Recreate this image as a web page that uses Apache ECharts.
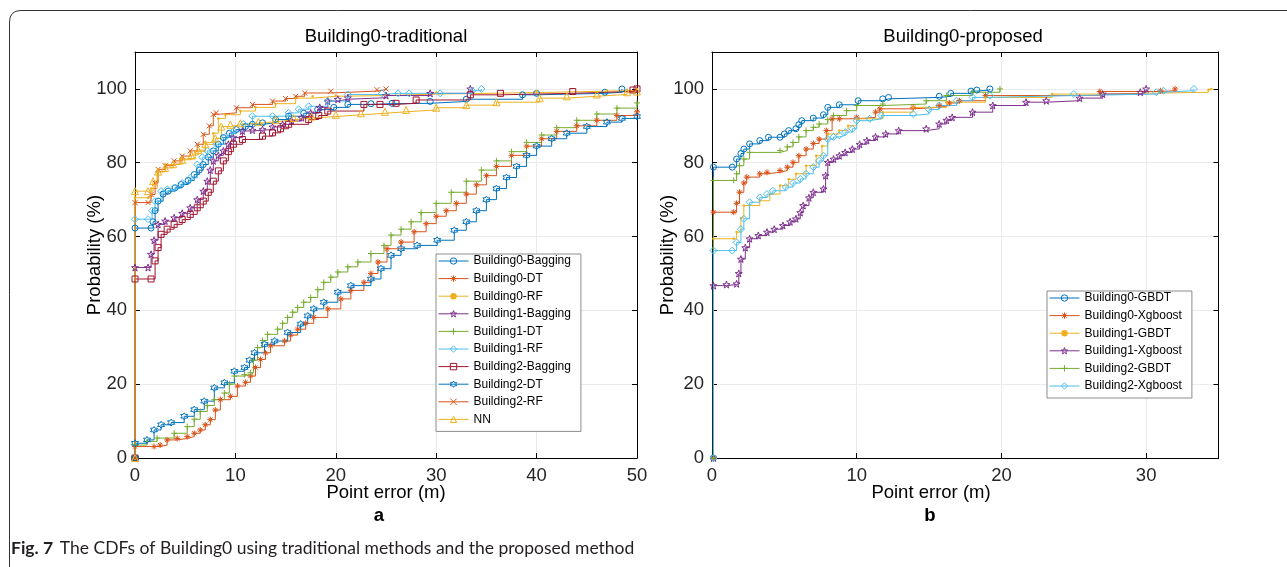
<!DOCTYPE html>
<html>
<head>
<meta charset="utf-8">
<script src="https://cdn.jsdelivr.net/npm/echarts@6/dist/echarts.min.js"></script>
<style>
html,body{margin:0;padding:0;background:#fff;}
#c{width:1287px;height:567px;}
</style>
</head>
<body>
<div id="c"></div>
<script>
// ---------- DATA (error in m, cumulative probability in %) ----------
const leftNames = ['Building0-Bagging','Building0-DT','Building0-RF','Building1-Bagging','Building1-DT','Building1-RF','Building2-Bagging','Building2-DT','Building2-RF','NN'];
const rightNames = ['Building0-GBDT','Building0-Xgboost','Building1-GBDT','Building1-Xgboost','Building2-GBDT','Building2-Xgboost'];
const xTicksLeft = [0,10,20,30,40,50];
const xTicksRight = [0,10,20,30];
const yTicks = [0,20,40,60,80,100];

const b0Bagging = [[0,0],[0,62.3],[1.6,62.3],[1.8,64],[2.0,67],[2.3,69.6],[2.8,71.5],[3.3,72.3],[4.0,73.2],[4.6,74.1],[5.3,75.2],[5.9,76.8],[6.4,78],[6.8,79.5],[7.3,81.5],[7.8,83.2],[8.3,85],[8.8,86.8],[9.4,88],[10.1,89],[11.0,89.8],[11.7,90.4],[12.7,90.8],[14.0,91.7],[15.3,92.6],[16.8,93.4],[18.2,94.4],[19.8,95.0],[21.2,95.8],[23.5,96.0],[25.6,96.1],[29.4,96.6],[33.0,97.2],[38.6,98.4],[40.0,98.8],[46.8,99.1],[48.5,100]];
const b0DT = [[0,0],[0,3.1],[1.9,3.1],[2.5,3.5],[3.2,4.9],[4.2,5.3],[5.2,5.8],[5.9,6.7],[6.5,7.6],[7.0,9],[7.5,10.4],[8.0,13],[8.5,15.8],[9.5,16.7],[10.2,19.5],[11.0,20.5],[11.5,22.2],[12.0,24.5],[12.5,26.7],[13.0,28.5],[13.5,30.4],[14.9,31.7],[15.5,33.3],[16.2,34.9],[17.0,36.5],[17.8,38.1],[19.2,40.4],[20.5,43.1],[21.5,45.4],[22.8,47.6],[23.5,50],[24.2,53.1],[25.1,56.7],[26.5,58.5],[27.8,61.3],[29,63.5],[30,65.5],[31,67],[32,69],[33,71.5],[34,74],[35,76.5],[36,79],[37.5,82],[39,84.5],[40.5,86.5],[42,88.5],[44,90],[46,91.5],[48,92.8],[50,93.8]];
const b0RF = [[0,0],[0,70.5],[1.3,70.5],[1.6,73],[2.2,77.5],[3,79.5],[4.5,81],[6,83],[7,85.5],[7.8,88],[8.3,92],[9,93],[10.5,94],[12,95],[14,96],[16,97.5],[17.7,98],[20,98.2],[25,98.6],[30,99],[40,99.4],[47,99.6],[50,100]];
const b1Bagging = [[0,0],[0,51.6],[1.3,51.6],[1.6,55.2],[1.9,59],[2.3,63.3],[3.0,64.2],[3.9,65.1],[4.7,66.3],[5.5,67.8],[6.2,70],[6.8,72.3],[7.2,75],[7.5,78],[7.8,80.5],[8.3,82],[8.8,83.2],[9.3,85],[9.8,86.8],[10.7,88.6],[11.7,88.8],[12.7,89],[13.7,89.7],[14.7,90.4],[15.6,91.3],[16.6,92.2],[17.5,93.5],[18.4,95],[19.2,96.7],[20.2,97.2],[21.2,97.6],[25,98.2],[29.4,98.8],[33.4,100]];
const b1DT = [[0,0],[0,3.5],[1.2,4.5],[2.2,5.4],[3.9,6.7],[5.2,8.5],[5.9,10.5],[6.5,12.6],[7.2,14.2],[7.9,15.8],[8.9,17.6],[9.4,20],[9.9,22.2],[10.9,22.6],[11.5,23.1],[11.8,26.5],[12.2,29.9],[12.7,31.8],[13.2,33.5],[14.2,34.9],[14.7,36.5],[15.2,38.1],[15.7,39.5],[16.2,40.8],[16.8,42.2],[17.5,43.5],[18.2,45.6],[18.8,47.6],[19.5,49],[20.2,50.4],[21.2,51.8],[22.2,53.1],[23.5,55.4],[24.8,57.6],[25.5,60.4],[26.5,62],[27.5,64],[28.5,66.5],[30,69],[31.5,72],[33,75],[34.5,78],[36,80.5],[37.5,83],[39,85.5],[40.5,87.5],[42,89.5],[44,91.5],[46,93.2],[48,94.8],[50,96.2]];
const b1RF = [[0,0],[0,64.7],[1.3,64.7],[1.7,67],[2.0,69.6],[2.6,72.3],[3.2,72.8],[3.9,73.2],[4.7,74.5],[5.5,75.9],[6.2,79.5],[6.7,81.5],[7.2,83.2],[8.1,85],[9.0,87],[9.8,88.6],[10.8,90.5],[11.7,92.6],[13.7,92.6],[15.3,93.5],[16.3,94.5],[17.3,95.3],[19.2,96.7],[21.2,98.5],[24.6,98.8],[26.2,98.8],[27.3,98.8],[30.4,98.8],[33.6,99.5],[34.5,100]];
const b2Bagging = [[0,0],[0,48.5],[1.6,48.5],[2.0,53.4],[2.3,57],[2.6,60.6],[3.2,62],[3.9,63.3],[4.7,64.6],[5.5,66],[6.2,67.8],[6.8,69.6],[7.3,72],[7.8,75],[8.3,77.8],[8.8,80.5],[9.3,83],[9.8,85],[10.7,86.3],[12.7,87.2],[13.7,88.1],[14.5,89.2],[15.3,90.4],[17.3,91.7],[18.3,92.8],[19.2,94],[22.8,95.8],[24.4,95.8],[26,96.1],[28,97],[33.4,98.4],[36.4,98.8],[43.6,99.3],[49.6,99.7],[50,100]];
const b2DT = [[0,0],[0,4],[1.2,4.9],[1.9,7.6],[2.6,9],[3.6,9.6],[4.9,11.3],[5.9,13.1],[6.9,15.4],[7.9,19],[8.9,20.4],[9.9,23.5],[10.9,24.5],[11.4,26.5],[11.9,28.5],[12.9,30.8],[13.9,31.7],[15.2,34],[16.5,36.3],[17.2,38.5],[17.8,40.4],[18.8,42.2],[20.2,44.9],[21.5,46.7],[23.5,48.5],[24.5,51.3],[25.5,54.9],[26.5,56.7],[28.1,57.6],[30.1,59],[31.8,61.7],[33,64],[34,67],[35,70],[36,73],[37,76],[38,79],[39,82],[40,84.5],[41.5,86.5],[43,88],[45,89.8],[47,91],[48.5,92],[50,92.5]];
const b2RF = [[0,0],[0,69.2],[1.3,69.2],[1.6,71.4],[2.0,74.5],[2.3,78.2],[3.0,79.2],[3.9,80.5],[4.7,81.8],[5.5,83.2],[6.2,85],[6.8,87.7],[7.4,90],[7.8,93.1],[8.1,93.5],[10.1,94.9],[11.7,95.8],[13.7,96.7],[15,97.4],[16,98],[16.9,98.9],[19.5,99.4],[24.1,99.8],[25,100]];
const nn = [[0,0],[0,72.3],[1.3,72.3],[1.8,75],[2.3,77.6],[3.0,78.6],[3.8,79.6],[4.7,80.8],[5.6,82.1],[6.3,83.4],[7.0,85],[8.0,86.6],[8.6,89.8],[9.5,90.3],[10.5,90.7],[12.3,91.1],[14,91.6],[15.8,92.1],[17.6,92.5],[20,93],[22.5,93.4],[24.9,93.8],[27,94.3],[30,94.9],[33,95.6],[36,96.4],[40.3,97.5],[43,98],[46,98.5],[49,99.1],[50,99.3]];

const rB0GBDT = [[0.1,0],[0.1,78.8],[1.4,78.8],[1.7,81],[2.0,82.5],[2.2,83.7],[2.6,85.1],[3.3,86],[3.9,86.9],[4.7,86.9],[5.0,87.8],[5.3,88.7],[5.8,89.2],[6.0,90.3],[6.2,91.4],[7.0,92.1],[7.7,93],[8.0,95],[8.8,95.7],[10.1,96.8],[11.8,97.3],[12.2,97.7],[15.7,98],[16.5,98.8],[17.9,99.4],[18.3,99.7],[19.2,100]];
const rB0Xg = [[0.1,0],[0.1,66.6],[1.5,66.6],[1.7,69],[1.9,72],[2.2,74.5],[2.4,76.1],[3.3,77],[3.8,77.4],[4.7,77.9],[5.2,78.8],[5.6,80.1],[6.0,81.9],[6.5,83.7],[7.0,85.2],[7.4,86.4],[7.9,88.7],[8.3,91.9],[8.8,91.9],[10.0,92.3],[11.3,93.7],[11.6,94.6],[13.9,95],[15.7,95.5],[16.4,96.2],[17.1,96.8],[18.9,98.2],[26.8,99.3],[31.0,99.5],[32.0,100]];
const rB1GBDT = [[0.1,0],[0.1,59.4],[1.5,59.4],[1.7,61.2],[2.0,65],[2.2,68.4],[3.3,69.7],[4.0,71.5],[4.7,73.8],[5.3,75.5],[5.8,77],[6.5,79.2],[7.2,81.9],[7.6,84.5],[8.0,87.8],[8.8,88.7],[9.4,90],[10.0,91.9],[11.8,93.7],[13.9,95],[16.2,96.4],[18.9,97.7],[23.5,98.6],[27.0,99.1],[34.3,99.8],[34.5,100]];
const rB1Xg = [[0.1,0],[0.1,46.7],[1.0,47],[1.7,47.2],[1.85,50],[2.0,53.9],[2.3,57],[2.6,59.4],[3.2,60.3],[3.8,61.2],[4.3,62],[4.9,63],[5.4,64],[5.8,64.8],[6.1,66.5],[6.3,68.4],[6.7,70.5],[7.0,72],[7.7,72.9],[7.85,76.5],[8.0,80.1],[8.4,81],[8.8,81.9],[9.2,82.8],[9.7,83.7],[10.2,85],[10.7,86],[11.3,87],[12.0,87.8],[12.9,88.7],[14.8,89.2],[15.7,90.5],[16.2,91.5],[16.6,92.3],[18.0,93.7],[19.4,95.5],[21.7,96.4],[23.1,96.8],[25.4,97.5],[27.0,98.6],[29.6,99.1],[30.0,100]];
const rB2GBDT = [[0.1,0],[0.1,75.2],[1.5,75.2],[1.7,77],[1.9,79.2],[2.2,81],[2.6,82.8],[4.7,83.3],[5.2,84.3],[5.6,85.5],[6.0,87],[6.5,88.7],[7.0,89.6],[7.4,90.5],[8.0,91.7],[8.4,92.8],[9.3,94.1],[10.0,95.5],[11.8,95.9],[14.8,96.8],[16.2,98.2],[18.0,99.1],[19.9,100]];
const rB2Xg = [[0.1,0],[0.1,56.2],[1.4,56.2],[1.7,58.4],[2.0,62],[2.2,64.8],[2.6,69.3],[3.3,70.6],[3.8,71.5],[4.2,72.4],[5.1,73.4],[5.6,74.5],[6.1,75.6],[6.5,77],[7.0,78.8],[7.4,80.5],[7.7,81.9],[8.0,86.4],[8.4,87],[8.8,87.4],[9.2,88.3],[9.7,89.2],[10.0,91.4],[10.9,91.9],[11.7,92.8],[13.9,93.2],[15.0,94.4],[15.7,95.5],[16.9,96.8],[18.0,97.7],[19.2,98.2],[25,98.6],[30.7,99.1],[31.2,99.5],[33.3,100]];

// ---------- STYLE ----------
const C = {blue:'#0072BD', orange:'#D95319', yellow:'#EDB120', purple:'#7E2F8E', green:'#77AC30', cyan:'#4DBEEE', red:'#A2142F'};
const SYM = {
  circle:'circle', diamond:'diamond', square:'rect', triangle:'triangle',
  plus:'path://M5,0L5,10M0,5L10,5',
  cross:'path://M0,0L10,10M0,10L10,0',
  aster:'path://M5,0L5,10M0,5L10,5M1.5,1.5L8.5,8.5M1.5,8.5L8.5,1.5',
  star5:'path://M5,0L6.18,3.38L9.76,3.45L6.9,5.62L7.94,9.05L5,7L2.06,9.05L3.1,5.62L0.24,3.45L3.82,3.38Z',
  star6:'path://M5,0L6.44,2.5L9.33,2.5L7.89,5L9.33,7.5L6.44,7.5L5,10L3.56,7.5L0.67,7.5L2.11,5L0.67,2.5L3.56,2.5Z',
  dot:'circle'
};
const FONT = "'Liberation Sans', Arial, Helvetica, sans-serif";

function styleOf(color, sym){
  return sym === 'dot' ? {color, borderWidth:0} : {color:'rgba(255,255,255,0)', borderColor:color, borderWidth:1};
}
function mk(name, data, color, sym, size, idx){
  return {
    name, type:'line', data, step:'end', xAxisIndex:idx, yAxisIndex:idx,
    symbol: SYM[sym], symbolSize: sym === 'dot' ? 2.5 : size, showAllSymbol:true,
    lineStyle:{color, width:1},
    itemStyle: styleOf(color, sym),
    emphasis:{disabled:true}, animation:false, clip:true
  };
}

const leftSpec = [
  [b0Bagging, C.blue, 'circle', 6],
  [b0DT, C.orange, 'aster', 6],
  [b0RF, C.yellow, 'dot', 3],
  [b1Bagging, C.purple, 'star5', 7],
  [b1DT, C.green, 'plus', 6],
  [b1RF, C.cyan, 'diamond', 7],
  [b2Bagging, C.red, 'square', 6],
  [b2DT, C.blue, 'star6', 7],
  [b2RF, C.orange, 'cross', 5],
  [nn, C.yellow, 'triangle', 7]
];
const rightSpec = [
  [rB0GBDT, C.blue, 'circle', 6],
  [rB0Xg, C.orange, 'aster', 6],
  [rB1GBDT, C.yellow, 'dot', 3],
  [rB1Xg, C.purple, 'star5', 7],
  [rB2GBDT, C.green, 'plus', 6],
  [rB2Xg, C.cyan, 'diamond', 7]
];
const series = [];
leftSpec.forEach((s,i) => series.push(mk(leftNames[i], s[0], s[1], s[2], s[3], 0)));
rightSpec.forEach((s,i) => series.push(mk(rightNames[i], s[0], s[1], s[2], s[3], 1)));

function xAx(grid, max, pos, labels){
  return {
    gridIndex:grid, type:'value', min:0, max, interval:10, position:pos,
    axisLine:{onZero:false, lineStyle:{color:'#000', width:1}},
    axisTick:{inside:true, length:5, lineStyle:{color:'#000'}},
    axisLabel:{show:labels, color:'#262626', fontSize:18.5, fontFamily:FONT, margin:8,
      formatter: v => (grid===0 ? xTicksLeft : xTicksRight).includes(v) ? String(v) : ''},
    splitLine:{show:labels, lineStyle:{color:'#ebebeb', width:1}}
  };
}
function yAx(grid, pos, labels){
  return {
    gridIndex:grid, type:'value', min:0, max:110, interval:20, position:pos,
    axisLine:{onZero:false, lineStyle:{color:'#000', width:1}},
    axisTick:{inside:true, length:5, lineStyle:{color:'#000'}},
    axisLabel:{show:labels, color:'#262626', fontSize:18.5, fontFamily:FONT, margin:8,
      formatter: v => yTicks.includes(v) ? String(v) : ''},
    splitLine:{show:labels, lineStyle:{color:'#ebebeb', width:1}}
  };
}

function legend(names, spec, left, top){
  return {
    data: names.map((n,i) => ({name:n, itemStyle: styleOf(spec[i][1], spec[i][2]), lineStyle:{color:spec[i][1], width:1}})),
    orient:'vertical', left, top,
    itemWidth:30, itemHeight:8, itemGap:5.6,
    padding:[1,10,6,2],
    lineStyle:{width:1},
    backgroundColor:'#fff', borderColor:'#8c8c8c', borderWidth:1, borderRadius:0,
    textStyle:{fontSize:12, fontFamily:FONT, color:'#000', lineHeight:12},
    selectedMode:false
  };
}

function txt(x, y, text, opts){
  return {type:'text', x, y, silent:true,
    style:Object.assign({text, fill:'#000', font:'18.5px '+FONT, textAlign:'center', textVerticalAlign:'middle'}, opts||{})};
}

const option = {
  backgroundColor:'#fff',
  animation:false,
  grid:[
    {left:135, top:52, width:502, height:406, containLabel:false},
    {left:712, top:52, width:506.5, height:406, containLabel:false}
  ],
  xAxis:[xAx(0,50,'bottom',true), xAx(1,35,'bottom',true), xAx(0,50,'top',false), xAx(1,35,'top',false)],
  yAxis:[yAx(0,'left',true), yAx(1,'left',true), yAx(0,'right',false), yAx(1,'right',false)],
  legend:[legend(leftNames, leftSpec, 436, 254), legend(rightNames, rightSpec, 1047, 291)],
  series,
  graphic:[
    {type:'polyline', silent:true, shape:{points:[[9.5,567],[9.5,22]]}, style:{stroke:'#333', lineWidth:1, fill:null}},
    {type:'bezierCurve', silent:true, shape:{x1:9.5,y1:22,cpx1:9.5,cpy1:10.5,x2:21,y2:10.5}, style:{stroke:'#333', lineWidth:1, fill:null}},
    {type:'polyline', silent:true, shape:{points:[[21,10.5],[1287,10.5]]}, style:{stroke:'#333', lineWidth:1, fill:null}},
    txt(386, 37, 'Building0-traditional'),
    txt(963, 37, 'Building0-proposed'),
    txt(386, 493, 'Point error (m)'),
    txt(931, 493, 'Point error (m)'),
    Object.assign(txt(95, 255, 'Probability (%)'), {rotation:Math.PI/2}),
    Object.assign(txt(668, 255, 'Probability (%)'), {rotation:Math.PI/2}),
    txt(379, 516, 'a', {font:'bold 18.5px '+FONT}),
    txt(930, 516, 'b', {font:'bold 18.5px '+FONT}),
    {type:'text', x:11, y:548, silent:true, style:{
      text:'{b|Fig. 7}  {r|The CDFs of Building0 using traditional methods and the proposed method}',
      textVerticalAlign:'middle', textAlign:'left',
      rich:{
        b:{font:"bold 17.5px Lato, 'Open Sans', sans-serif", fill:'#231f20'},
        r:{font:"17.5px Lato, 'Open Sans', sans-serif", fill:'#231f20'}
      }
    }}
  ]
};

const chart = echarts.init(document.getElementById('c'), null, {renderer:'canvas'});
chart.setOption(option);
</script>
</body>
</html>
